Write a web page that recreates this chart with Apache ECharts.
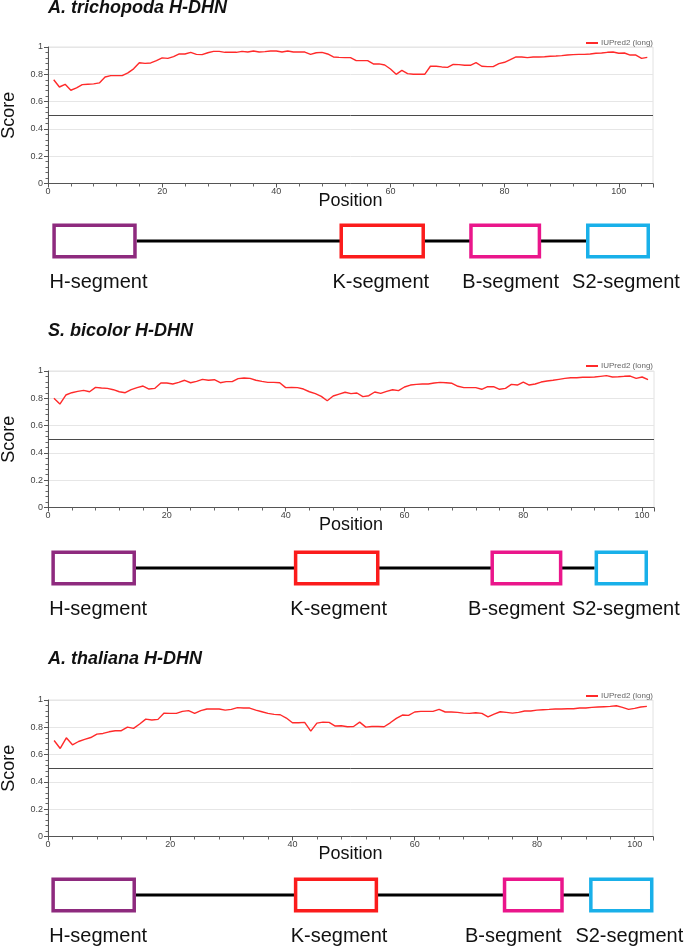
<!DOCTYPE html>
<html>
<head>
<meta charset="utf-8">
<script src="https://cdn.jsdelivr.net/npm/echarts@6/dist/echarts.min.js"></script>
<style>
html,body{margin:0;padding:0;background:#fff;}
#main{width:685px;height:946px;}
</style>
</head>
<body>
<div id="main"></div>
<script>
// ---------- DATA ----------
const seriesName = 'IUPred2 (long)';
const titles = ['A. trichopoda H-DHN', 'S. bicolor H-DHN', 'A. thaliana H-DHN'];
const threshold = 0.5;

// IUPred2 long scores, residue 1..n
const trichopodaScores = [
  0.760,0.707,0.727,0.683,0.700,0.724,0.727,0.730,0.737,0.780,
  0.790,0.790,0.790,0.810,0.840,0.885,0.880,0.883,0.900,0.920,
  0.917,0.930,0.950,0.949,0.961,0.946,0.944,0.958,0.968,0.968,
  0.961,0.961,0.961,0.968,0.963,0.971,0.963,0.966,0.971,0.971,
  0.963,0.971,0.963,0.963,0.963,0.946,0.958,0.961,0.949,0.927,
  0.924,0.922,0.922,0.900,0.900,0.900,0.876,0.876,0.868,0.839,
  0.800,0.829,0.805,0.800,0.800,0.800,0.859,0.859,0.854,0.851,
  0.873,0.871,0.866,0.866,0.885,0.859,0.856,0.856,0.878,0.888,
  0.907,0.927,0.927,0.922,0.927,0.927,0.929,0.932,0.934,0.937,
  0.941,0.944,0.946,0.946,0.949,0.954,0.956,0.961,0.963,0.954,
  0.956,0.941,0.941,0.917,0.924
];
const bicolorScores = [
  0.800,0.758,0.824,0.841,0.851,0.858,0.848,0.880,0.875,0.873,
  0.863,0.848,0.841,0.863,0.878,0.890,0.868,0.873,0.912,0.912,
  0.905,0.917,0.932,0.914,0.924,0.939,0.932,0.936,0.914,0.922,
  0.922,0.944,0.949,0.946,0.932,0.924,0.917,0.917,0.914,0.878,
  0.880,0.878,0.868,0.848,0.834,0.814,0.782,0.817,0.831,0.844,
  0.834,0.839,0.812,0.819,0.846,0.836,0.851,0.863,0.856,0.883,
  0.897,0.902,0.905,0.905,0.912,0.917,0.914,0.910,0.888,0.878,
  0.878,0.878,0.866,0.885,0.885,0.866,0.873,0.902,0.897,0.919,
  0.897,0.905,0.919,0.927,0.932,0.939,0.946,0.951,0.951,0.954,
  0.954,0.956,0.961,0.966,0.956,0.958,0.961,0.963,0.946,0.956,
  0.936
];
const thalianaScores = [
  0.703,0.645,0.723,0.672,0.696,0.711,0.725,0.750,0.755,0.767,
  0.775,0.775,0.801,0.792,0.824,0.860,0.853,0.858,0.904,0.902,
  0.902,0.917,0.922,0.902,0.922,0.934,0.934,0.934,0.926,0.931,
  0.944,0.941,0.941,0.926,0.914,0.902,0.895,0.892,0.868,0.833,
  0.833,0.836,0.772,0.831,0.838,0.836,0.809,0.811,0.804,0.806,
  0.838,0.801,0.806,0.806,0.804,0.833,0.865,0.890,0.887,0.912,
  0.917,0.917,0.917,0.931,0.912,0.912,0.909,0.904,0.902,0.907,
  0.902,0.877,0.897,0.914,0.909,0.904,0.909,0.919,0.919,0.926,
  0.929,0.931,0.934,0.934,0.936,0.936,0.941,0.941,0.946,0.949,
  0.951,0.953,0.958,0.946,0.931,0.939,0.949,0.953
];
const xAxisMax = [106, 102, 99];
const yTickLabels = ['0','0.2','0.4','0.6','0.8','1'];
// x tick labels as printed on each panel (value at which each label is printed)
const xTickValues = [[0,20,40,60,80,100],[0,20,40,60,80,100],[0,20,40,60,80,96]];
const xTickLabels = [['0','20','40','60','80','100'],['0','20','40','60','80','100'],['0','20','40','60','80','100']];

// domain schematic (positions in % of the panel width)
const segmentNames = ['H-segment','K-segment','B-segment','S2-segment'];
const trichopodaSegStart = [7.64, 49.56, 68.5, 85.55];
const trichopodaSegEnd   = [19.96, 62.04, 79.0, 94.89];
const bicolorSegStart    = [7.5, 42.9, 71.6, 86.8];
const bicolorSegEnd      = [19.85, 55.4, 82.1, 94.6];
const thalianaSegStart   = [7.5, 42.9, 73.4, 86.0];
const thalianaSegEnd     = [19.85, 55.2, 82.3, 95.4];

// ---------- LAYOUT / STYLE ----------
const FONT = '"Liberation Sans", Arial, sans-serif';
const segColors = ['#8e2a7e', '#fb1c1c', '#ea168b', '#19b0e9'];
const labelShift = [[4, -1.5, 5.5, 8], [4.5, 2, -10, 4.5], [4.5, 3, -20, 8]];
const plotTops = [47, 371, 700];
const plotRights = [32, 31, 32];
const schemTops = [220, 547, 874];
const titleTops = [-1, 322.5, 650.5];
const legendTops = [39, 362, 692];

const scores = [trichopodaScores, bicolorScores, thalianaScores];
const segStarts = [trichopodaSegStart, bicolorSegStart, thalianaSegStart];
const segEnds = [trichopodaSegEnd, bicolorSegEnd, thalianaSegEnd];

const grid = [], xAxis = [], yAxis = [], series = [], title = [], legend = [];

for (let p = 0; p < 3; p++) {
  grid.push({left: 48, right: plotRights[p], top: plotTops[p], height: 136.5,
    containLabel: false, outerBoundsMode: 'none',
    show: true, borderColor: '#e2e2e2', borderWidth: 1, backgroundColor: 'transparent'});
  const tv = xTickValues[p], tl = xTickLabels[p];
  xAxis.push({
    type: 'value', gridIndex: p, min: 0, max: xAxisMax[p], interval: 20,
    name: 'Position', nameLocation: 'middle', nameGap: 9, nameMoveOverlap: false,
    nameTextStyle: {fontSize: 18, color: '#111', fontFamily: FONT},
    axisLine: {show: true, onZero: false, lineStyle: {color: '#555', width: 1}},
    axisTick: {show: true, length: 4, lineStyle: {color: '#555'}},
    minorTick: {show: true, splitNumber: 5, length: 3, lineStyle: {color: '#666'}},
    splitLine: {show: false},
    axisLabel: {fontSize: 9, color: '#444', margin: 4, fontFamily: FONT,
      customValues: tv,
      formatter: function (v) { const i = tv.indexOf(v); return i >= 0 ? tl[i] : ''; }}
  });
  yAxis.push({
    type: 'value', gridIndex: p, min: 0, max: 1, interval: 0.2,
    name: 'Score', nameLocation: 'middle', nameGap: 30, nameMoveOverlap: false,
    nameTextStyle: {fontSize: 18, color: '#111', fontFamily: FONT},
    axisLine: {show: true, lineStyle: {color: '#555', width: 1}},
    axisTick: {show: true, length: 4, lineStyle: {color: '#555'}},
    minorTick: {show: true, splitNumber: 5, length: 2.5, lineStyle: {color: '#666'}},
    splitLine: {show: true, lineStyle: {color: '#e6e6e6', width: 1}},
    axisLabel: {fontSize: 9, color: '#444', margin: 5, fontFamily: FONT,
      formatter: function (v) { return yTickLabels[Math.round(v * 5)]; }}
  });
  series.push({
    name: seriesName, type: 'line', xAxisIndex: p, yAxisIndex: p,
    data: scores[p].map((v, i) => [i + 1, v]),
    symbol: 'none', showSymbol: false, smooth: false,
    lineStyle: {color: '#ff2a2a', width: 1.4}, itemStyle: {color: '#ff2a2a'},
    animation: false,
    markLine: {silent: true, symbol: 'none', animation: false,
      label: {show: false},
      lineStyle: {color: '#4a4a4a', width: 1, type: 'solid'},
      data: [{yAxis: threshold}]}
  });
  title.push({text: titles[p], left: 48, top: titleTops[p], padding: 0,
    textStyle: {fontSize: 18, fontWeight: 'bold', fontStyle: 'italic', color: '#111', fontFamily: FONT}});
  legend.push({data: [{name: seriesName, icon: 'rect'}], right: 32, top: legendTops[p], padding: 0,
    itemWidth: 12, itemHeight: 2, selectedMode: false,
    itemStyle: {color: '#ff2a2a'},
    textStyle: {fontSize: 8, color: '#666', fontFamily: FONT, padding: [0, 0, 0, -2]}});
}

// schematic panels
for (let p = 0; p < 3; p++) {
  const gi = 3 + p;
  grid.push({left: 0, right: 0, top: schemTops[p], height: 42, containLabel: false, outerBoundsMode: 'none'});
  xAxis.push({type: 'value', gridIndex: gi, min: 0, max: 100, show: false});
  yAxis.push({type: 'value', gridIndex: gi, min: 0, max: 1, show: false});
  const st = segStarts[p], en = segEnds[p];
  series.push({
    type: 'line', xAxisIndex: gi, yAxisIndex: gi, symbol: 'none', z: 2,
    data: [[en[0], 0.5], [st[3], 0.5]],
    lineStyle: {color: '#000', width: 3}, animation: false, silent: true
  });
  const pShift = labelShift[p];
  series.push({
    type: 'custom', xAxisIndex: gi, yAxisIndex: gi, z: 5, animation: false, silent: true,
    data: segmentNames.map((n, i) => [st[i], en[i], i]),
    clip: false,
    renderItem: function (params, api) {
      const s = api.coord([api.value(0), 0.5]);
      const e = api.coord([api.value(1), 0.5]);
      const i = api.value(2);
      const sw = 3.5;
      return {type: 'group', children: [
        {type: 'rect', shape: {x: s[0] + sw / 2, y: s[1] - 17.5 + sw / 2, width: e[0] - s[0] - sw, height: 35 - sw},
          style: {fill: '#fff', stroke: segColors[i], lineWidth: sw}},
        {type: 'text', style: {text: segmentNames[i], x: (s[0] + e[0]) / 2 + pShift[i], y: s[1] + 41,
          align: 'center', verticalAlign: 'middle', fontSize: 20, fill: '#111', fontFamily: FONT}}
      ]};
    }
  });
}

const chart = echarts.init(document.getElementById('main'), null, {renderer: 'canvas'});
chart.setOption({animation: false, backgroundColor: '#fff', title, legend, grid, xAxis, yAxis, series});
</script>
</body>
</html>
